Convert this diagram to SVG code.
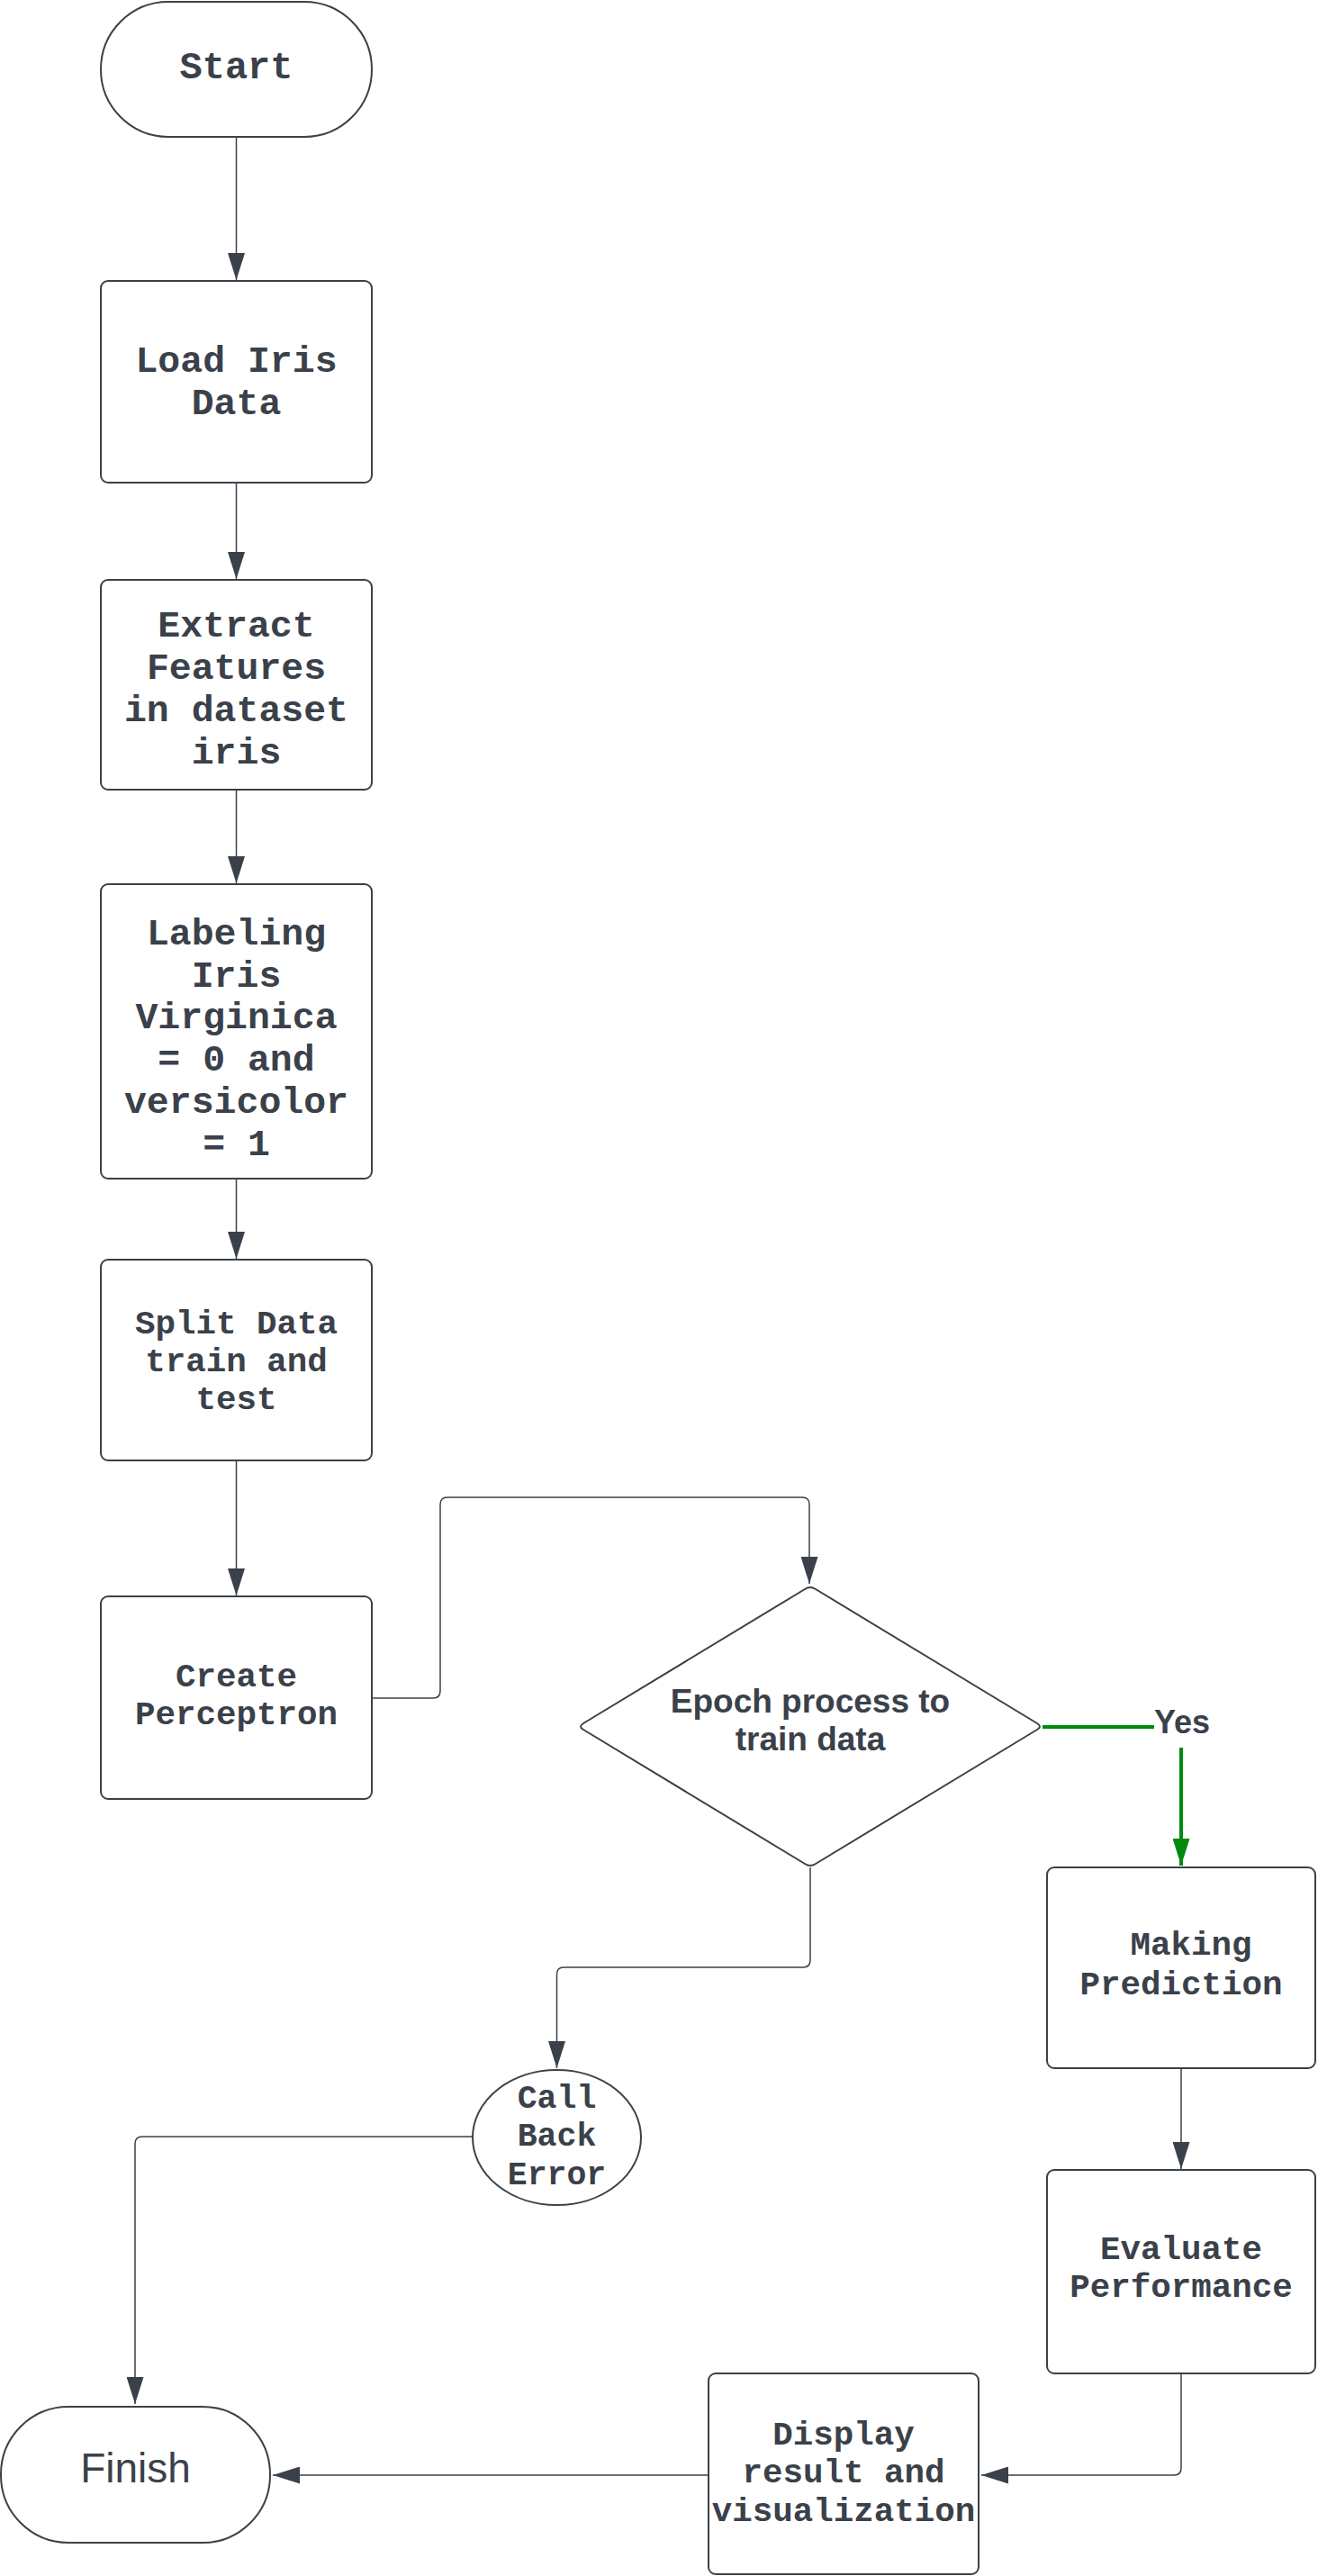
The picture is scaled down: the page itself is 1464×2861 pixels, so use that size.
<svg xmlns="http://www.w3.org/2000/svg" width="1464" height="2861" viewBox="0 0 1464 2861">
<style>
.shape{fill:#ffffff;stroke:#3a414a;stroke-width:2;}
.mono{font-family:"Liberation Mono","Courier New",monospace;font-weight:bold;fill:#3a414a;text-anchor:middle;}
.sans{font-family:"Liberation Sans",Arial,sans-serif;fill:#3a414a;text-anchor:middle;}
.conn{fill:none;stroke:#3a414a;stroke-width:1.5;}
.green{fill:none;stroke:#008a0e;stroke-width:4;}
</style>
<defs>
<marker id="arr" viewBox="0 0 30 19" refX="30" refY="9.5" markerWidth="30" markerHeight="19" markerUnits="userSpaceOnUse" orient="auto">
<path d="M0,0 L30,9.5 L0,19 z" fill="#3a414a"/>
</marker>
<marker id="arrg" viewBox="0 0 30 19" refX="30" refY="9.5" markerWidth="30" markerHeight="19" markerUnits="userSpaceOnUse" orient="auto">
<path d="M0,0 L30,9.5 L0,19 z" fill="#008a0e"/>
</marker>
</defs>
<rect width="1464" height="2861" fill="#ffffff"/>

<g id="connectors">
<path class="conn" d="M262.5,152 V311" marker-end="url(#arr)"/>
<path class="conn" d="M262.5,536 V643" marker-end="url(#arr)"/>
<path class="conn" d="M262.5,877 V981" marker-end="url(#arr)"/>
<path class="conn" d="M262.5,1309 V1398" marker-end="url(#arr)"/>
<path class="conn" d="M262.5,1622 V1772" marker-end="url(#arr)"/>
<path class="conn" d="M413,1886 H481 Q489,1886 489,1878 V1671 Q489,1663 497,1663 H891 Q899,1663 899,1671 V1759" marker-end="url(#arr)"/>
<path class="green" d="M1158,1918 H1282"/>
<path class="green" d="M1312,1941 V2072" marker-end="url(#arrg)"/>
<path class="conn" d="M900,2074 V2177 Q900,2185 892,2185 H626 Q618.5,2185 618.5,2193 V2297" marker-end="url(#arr)"/>
<path class="conn" d="M525,2373 H158 Q150,2373 150,2381 V2670" marker-end="url(#arr)"/>
<path class="conn" d="M1312,2297 V2409" marker-end="url(#arr)"/>
<path class="conn" d="M1312,2636 V2741 Q1312,2749 1304,2749 H1090" marker-end="url(#arr)"/>
<path class="conn" d="M787,2749 H303" marker-end="url(#arr)"/>
</g>

<g id="start">
<rect class="shape" x="112" y="2" width="301" height="150" rx="75" ry="75"/>
<text class="mono" x="262.5" y="87" font-size="42">Start</text>
</g>

<g id="load">
<rect class="shape" x="112" y="312" width="301" height="224" rx="8"/>
<text class="mono" font-size="41.5"><tspan x="262.5" y="413">Load Iris</tspan><tspan x="262.5" y="460">Data</tspan></text>
</g>

<g id="extract">
<rect class="shape" x="112" y="644" width="301" height="233" rx="8"/>
<text class="mono" font-size="41.5"><tspan x="262.5" y="707">Extract</tspan><tspan x="262.5" y="754">Features</tspan><tspan x="262.5" y="801">in dataset</tspan><tspan x="262.5" y="848">iris</tspan></text>
</g>

<g id="labeling">
<rect class="shape" x="112" y="982" width="301" height="327" rx="8"/>
<text class="mono" font-size="41.5"><tspan x="262.5" y="1049">Labeling</tspan><tspan x="262.5" y="1096">Iris</tspan><tspan x="262.5" y="1142">Virginica</tspan><tspan x="262.5" y="1189">= 0 and</tspan><tspan x="262.5" y="1236">versicolor</tspan><tspan x="262.5" y="1283">= 1</tspan></text>
</g>

<g id="split">
<rect class="shape" x="112" y="1399" width="301" height="223" rx="8"/>
<text class="mono" font-size="37.5"><tspan x="262.5" y="1481">Split Data</tspan><tspan x="262.5" y="1523">train and</tspan><tspan x="262.5" y="1565">test</tspan></text>
</g>

<g id="create">
<rect class="shape" x="112" y="1773" width="301" height="225" rx="8"/>
<text class="mono" font-size="37.5"><tspan x="262.5" y="1873">Create</tspan><tspan x="262.5" y="1915">Perceptron</tspan></text>
</g>

<g id="epoch">
<path class="shape" stroke-linejoin="round" d="M894,1765 Q900,1761 906,1765 L1152,1914 Q1158,1917.5 1152,1921 L906,2070 Q900,2074 894,2070 L648,1921 Q642,1917.5 648,1914 Z"/>
<text class="sans" font-size="37" font-weight="bold"><tspan x="900" y="1901.5">Epoch process to</tspan><tspan x="900" y="1944">train data</tspan></text>
</g>

<g id="yes-label">
<text class="sans" x="1313" y="1925" font-size="36" font-weight="bold">Yes</text>
</g>

<g id="making">
<rect class="shape" x="1163" y="2074" width="298" height="223" rx="8"/>
<text class="mono" font-size="37.5"><tspan x="1323" y="2171">Making</tspan><tspan x="1312" y="2215">Prediction</tspan></text>
</g>

<g id="evaluate">
<rect class="shape" x="1163" y="2410" width="298" height="226" rx="8"/>
<text class="mono" font-size="37.5"><tspan x="1312" y="2509">Evaluate</tspan><tspan x="1312" y="2551">Performance</tspan></text>
</g>

<g id="display">
<rect class="shape" x="787" y="2636" width="300" height="223" rx="8"/>
<text class="mono" font-size="37.5"><tspan x="937" y="2715">Display</tspan><tspan x="937" y="2757">result and</tspan><tspan x="937" y="2799.5">visualization</tspan></text>
</g>

<g id="callback">
<ellipse class="shape" cx="618.5" cy="2374" rx="93.5" ry="75"/>
<text class="mono" font-size="36.5"><tspan x="618.5" y="2341">Call</tspan><tspan x="618.5" y="2383">Back</tspan><tspan x="618.5" y="2425.5">Error</tspan></text>
</g>

<g id="finish">
<rect class="shape" x="1" y="2673" width="299" height="151" rx="75" ry="75"/>
<text class="sans" x="150.5" y="2757" font-size="46">Finish</text>
</g>
</svg>
